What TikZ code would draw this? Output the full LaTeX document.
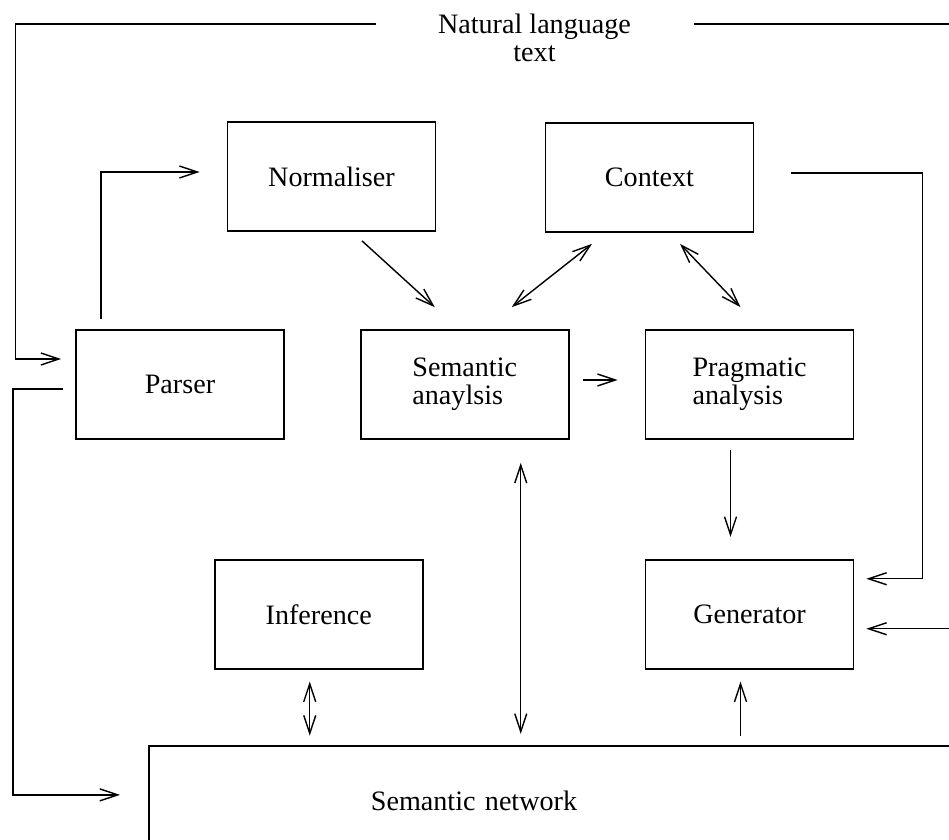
\documentclass[tikz,border=0pt]{standalone}
\usepackage{fontspec}
\setmainfont{Liberation Serif}
\usepackage{tikz}
\usetikzlibrary{arrows.meta, positioning, calc}

\begin{document}
\begin{tikzpicture}[
  x=0.025cm, y=-0.025cm,
  >={Straight Barb[length=4.5mm, width=3mm]},
  block/.style={rectangle, draw, line width=1.2pt, minimum width=5.2cm,
    minimum height=2.725cm, align=center, font=\fontsize{20}{20}\selectfont},
  twoline/.style={block, align=left},
  arr/.style={->, line width=1pt},
  dbl/.style={<->, line width=1pt},
  wire/.style={line width=1.2pt},
]
\clip (0,0) rectangle (949,840);

% Input text
\node[anchor=north, inner sep=0pt, align=center, font=\fontsize{20}{20}\selectfont]
  (nlt) at (534.5,14) {Natural language\\text};

% Upper row
\node[block] (normaliser) at (331.5,176.5) {Normaliser};
\node[block] (context) at (649.5,177.5) {Context};

% Middle row
\node[block] (parser) at (180,384.5) {Parser};
\node[twoline, right=1.875cm of parser] (semantic) {Semantic\\anaylsis};
\node[twoline, right=1.875cm of semantic] (pragmatic) {Pragmatic\\analysis};

% Lower row
\node[block, below=2.975cm of pragmatic] (generator) {Generator};
\node[block, left=5.525cm of generator] (inference) {Inference};

% Semantic network
\node[draw, line width=1.2pt, anchor=north west, minimum height=2.75cm,
  text width=10.5cm, inner xsep=5.55cm, align=left,
  font=\fontsize{20}{20}\selectfont] (network) at (148,745) {Semantic network};

% Arrows
\draw[wire, arr] ($(nlt.north west)+(-62,10)$) -- ++(-360,0)
  |- ($(parser.west)+(-14,-25.5)$);
\draw[wire, arr] ($(nlt.north east)+(63,10)$) -- ++(300,0)
  |- ($(generator.east)+(12,14.5)$);
\draw[arr] ($(parser.north west)+(26,-10)$) |- ($(normaliser.west)+(-27,-4.5)$);
\draw[wire, arr] ($(parser.west)+(-12,4.5)$) -- ++(-50,0) |- ($(network.west)+(-28,-6)$);

\draw[arr] ($(normaliser.south)+(30.5,9)$) -- ($(semantic.north)+(-30,-22)$);
\draw[dbl] ($(context.south)+(-57.5,11)$) -- ($(semantic.north)+(47,-22)$);
\draw[dbl] ($(context.south)+(30.5,11)$) -- ($(pragmatic.north)+(-9,-22)$);
\draw[arr] ($(semantic.east)+(13,-4.5)$) -- ($(pragmatic.west)+(-27,-4.5)$);
\draw[arr] ($(pragmatic.south)+(-19,10)$) -- ($(generator.north)+(-19,-22)$);
\draw[wire, arr] ($(context.east)+(37,-4.5)$) -- ++(131,0) |- ($(generator.east)+(12,-35.5)$);

\draw[dbl] ($(semantic.south)+(56,23)$) -- ++(0,271);
\draw[dbl] ($(inference.south)+(-9,12)$) -- ++(0,54);
\draw[arr] ($(generator.south)+(-9,66)$) -- ($(generator.south)+(-9,12)$);

\end{tikzpicture}
\end{document}
